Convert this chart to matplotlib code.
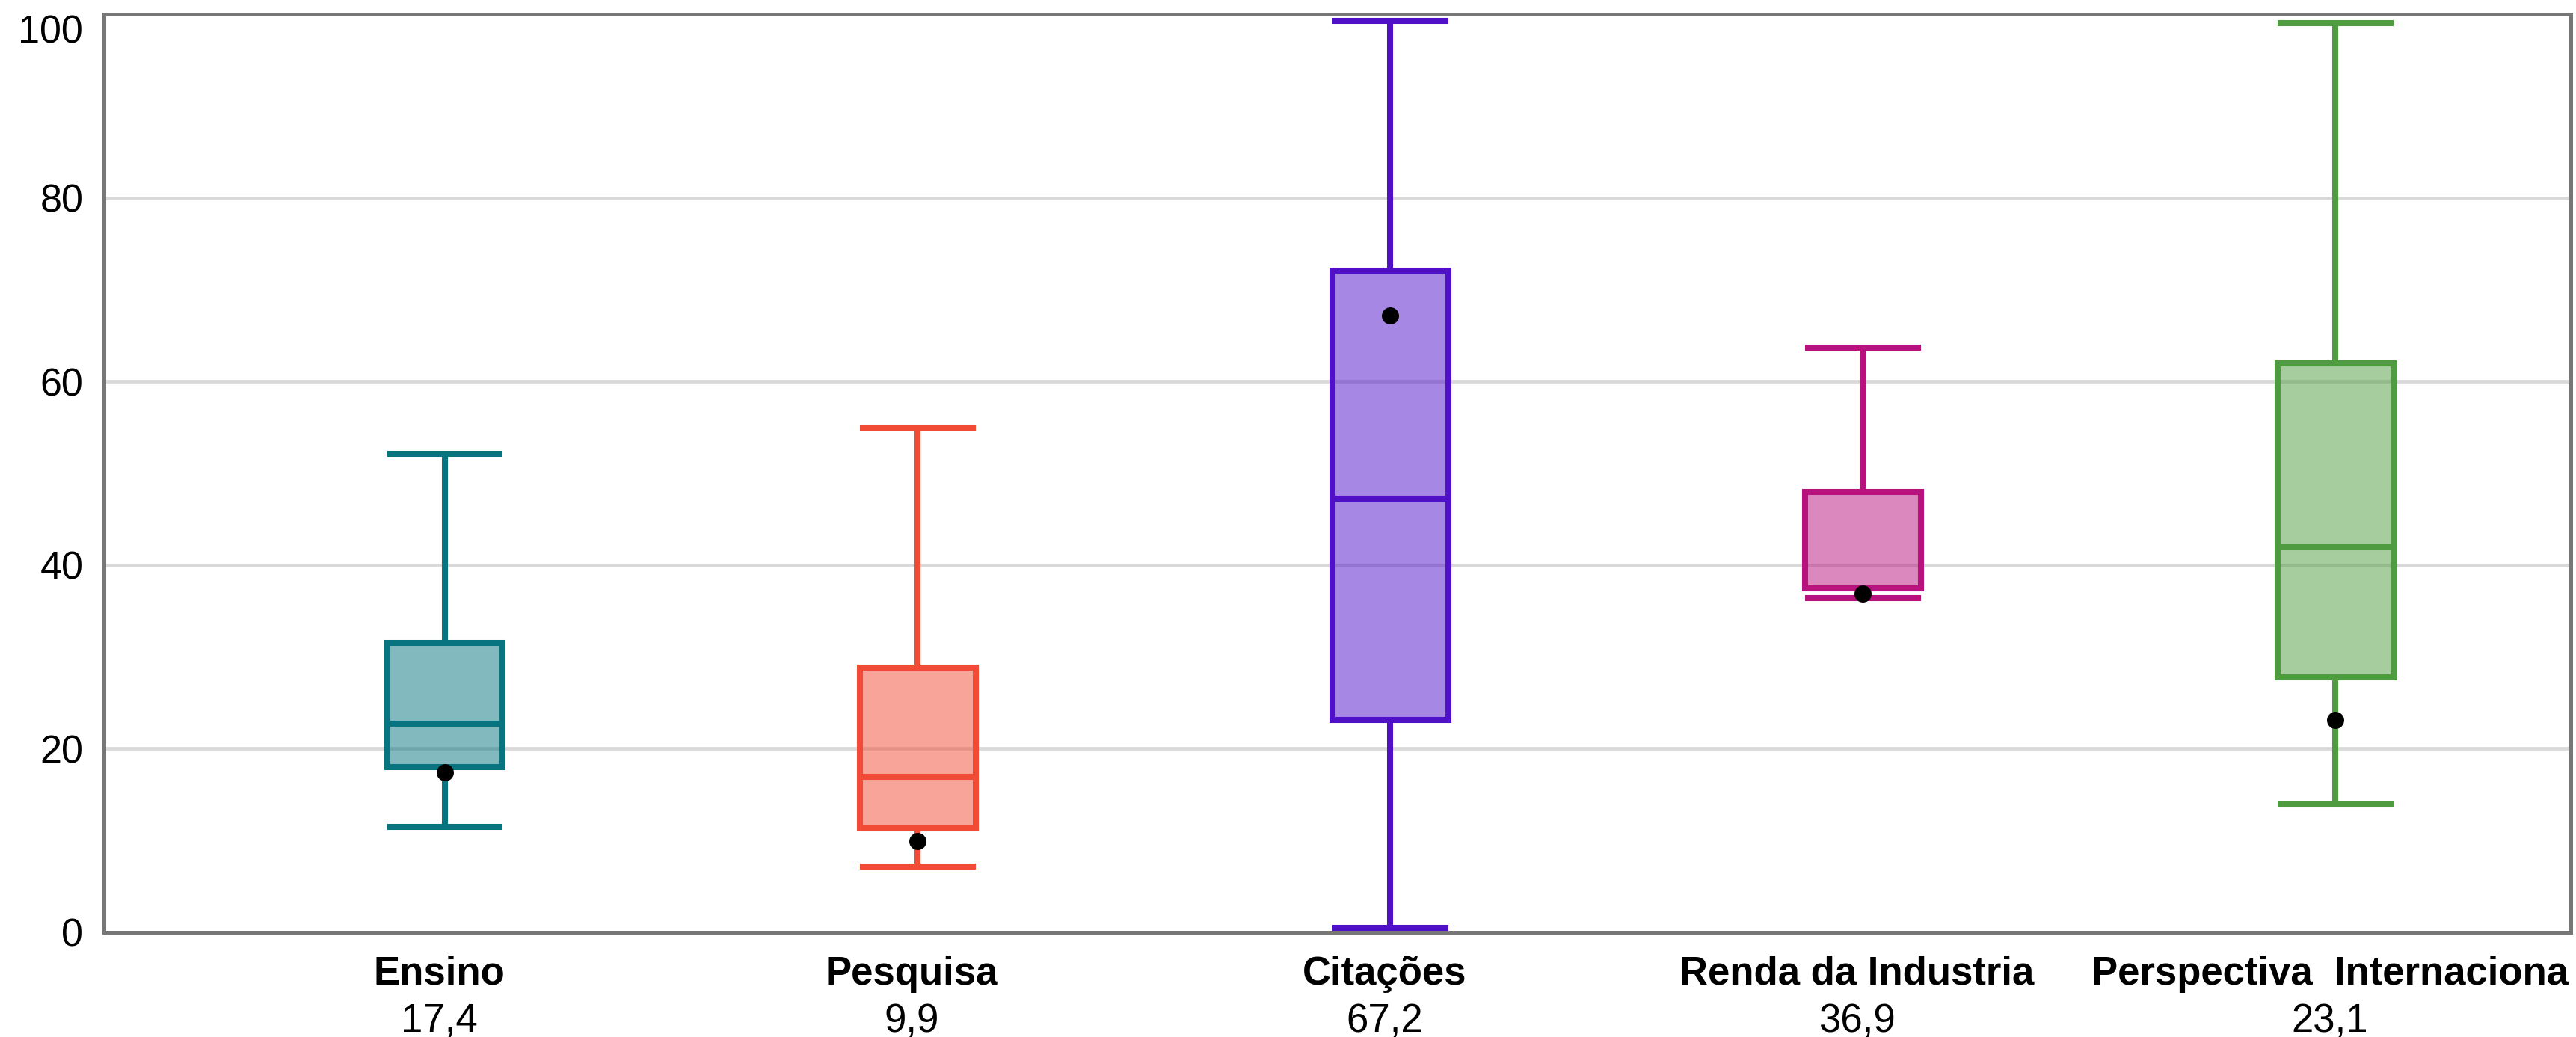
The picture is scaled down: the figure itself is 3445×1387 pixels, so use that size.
import matplotlib
matplotlib.use("Agg")
import matplotlib.pyplot as plt
import matplotlib.transforms as mtransforms
from matplotlib.colors import to_rgba

plt.rcParams['font.family'] = ['Liberation Sans', 'DejaVu Sans']

# ---- data ----
categories = ["Ensino", "Pesquisa", "Citações", "Renda da Industria", "Perspectiva  Internaciona"]
score_labels = ["17,4", "9,9", "67,2", "36,9", "23,1"]
scores = [17.4, 9.9, 67.2, 36.9, 23.1]
whisker_low = [11.5, 7.2, 0.5, 36.4, 13.9]
q1_values = [18.0, 11.3, 23.1, 37.5, 27.8]
medians = [22.7, 16.9, 47.2, 37.5, 41.9]
q3_values = [31.5, 28.8, 72.1, 48.0, 62.0]
whisker_high = [52.1, 55.0, 99.3, 63.7, 99.0]
colors = ["#077480", "#F24B35", "#4F10C8", "#B8127E", "#4E9C3F"]
yticks = [0, 20, 40, 60, 80, 100]

W, H = 3445, 1387
fig = plt.figure(figsize=(W / 100, H / 100), dpi=100)
ax = fig.add_axes([139 / W, (H - 1247) / H, (3438 - 139) / W, (1247 - 19) / H])

positions = list(range(len(categories)))
stats = []
for i in positions:
    stats.append(dict(med=medians[i], q1=q1_values[i], q3=q3_values[i],
                      whislo=whisker_low[i], whishi=whisker_high[i], fliers=[]))

lw = 5.8
bp = ax.bxp(stats, positions=positions, widths=0.245, capwidths=0.245,
            patch_artist=True, showfliers=False, zorder=3)

for i, c in enumerate(colors):
    box = bp['boxes'][i]
    box.set_facecolor(to_rgba(c, 0.5))
    box.set_edgecolor(c)
    box.set_linewidth(lw)
    box.set_joinstyle('miter')
    med = bp['medians'][i]
    med.set_color(c)
    med.set_linewidth(lw)
    med.set_solid_capstyle('butt')
    for ln in bp['whiskers'][2 * i:2 * i + 2] + bp['caps'][2 * i:2 * i + 2]:
        ln.set_color(c)
        ln.set_linewidth(lw)
        ln.set_solid_capstyle('butt')

ax.plot(positions, scores, 'o', color='black', markersize=15.5, zorder=6,
        linestyle='none')

ax.set_xlim(-0.7215, 4.498)
ax.set_ylim(0, 100)
ax.set_yticks(yticks)
ax.set_yticklabels([str(v) for v in yticks], fontsize=37.5)
ax.tick_params(axis='y', length=0, pad=20, colors='black')
ax.get_yticklabels()[-1].set_verticalalignment('top')
ax.set_xticks([])

ax.set_axisbelow(True)
ax.yaxis.grid(True, color='#d9d9d9', linewidth=3.4)
for s in ax.spines.values():
    s.set_color('#777777')
    s.set_linewidth(3.6)
    s.set_zorder(7)

trans = mtransforms.blended_transform_factory(ax.transData, ax.transAxes)
for i, (name, lab) in enumerate(zip(categories, score_labels)):
    ax.text(i - 0.012, -0.057, name, transform=trans, ha='center', va='baseline',
            fontsize=38, fontweight='bold', color='black', clip_on=False)
    ax.text(i - 0.012, -0.1083, lab, transform=trans, ha='center', va='baseline',
            fontsize=38, color='black', clip_on=False)

fig.savefig("out.png", dpi=100, facecolor='white')
